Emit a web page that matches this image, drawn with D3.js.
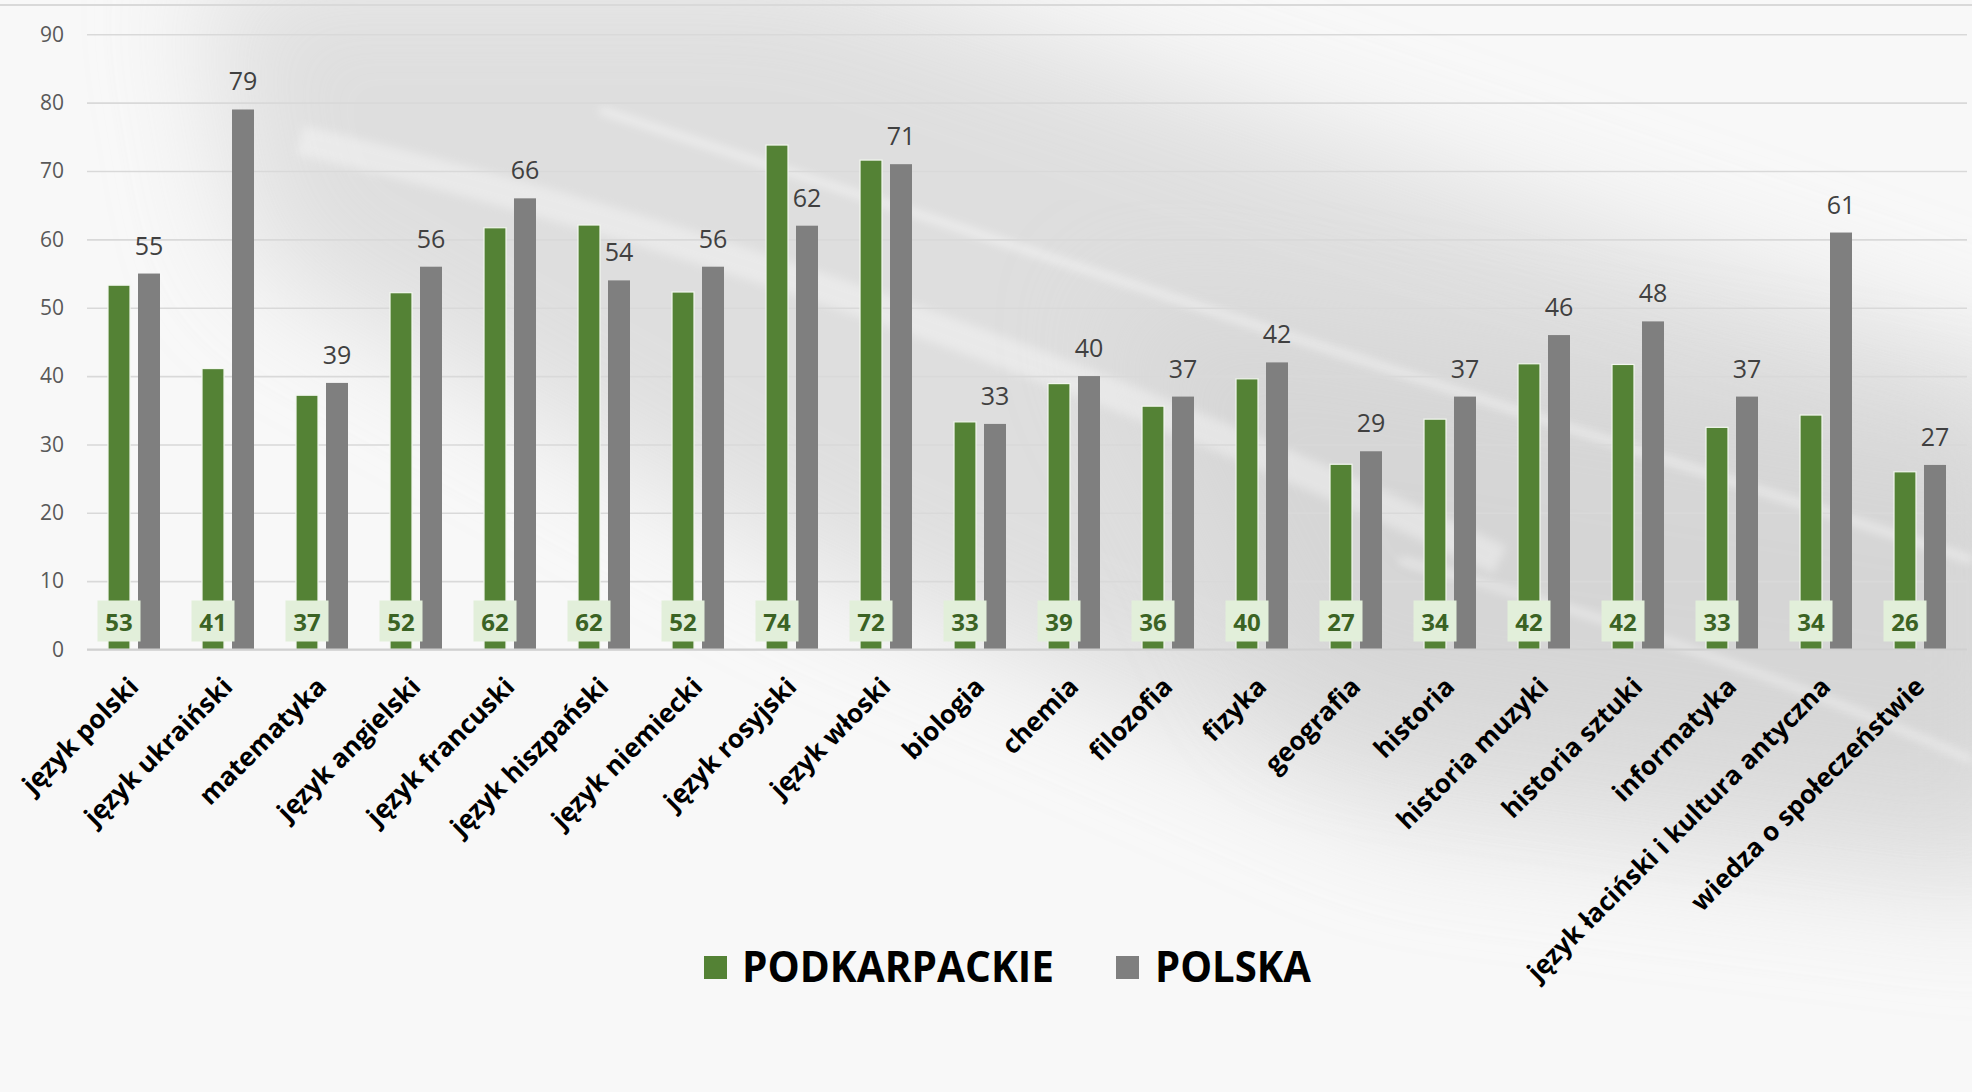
<!DOCTYPE html>
<html>
<head>
<meta charset="utf-8">
<script src="https://cdn.jsdelivr.net/npm/d3@7"></script>
<style>
  body { margin: 0; background: #f7f7f7; }
  svg { display: block; }
</style>
</head>
<body>
<div id="chart"></div>
<script>
// chart data
var categories = ["język polski", "język ukraiński", "matematyka", "język angielski",
  "język francuski", "język hiszpański", "język niemiecki", "język rosyjski",
  "język włoski", "biologia", "chemia", "filozofia", "fizyka", "geografia",
  "historia", "historia muzyki", "historia sztuki", "informatyka",
  "język łaciński i kultura antyczna", "wiedza o społeczeństwie"];
var podkarpackie = [53.3, 41.1, 37.2, 52.2, 61.7, 62.1, 52.3, 73.8, 71.6, 33.3,
  38.9, 35.6, 39.6, 27.1, 33.7, 41.8, 41.7, 32.5, 34.3, 26.0];
var polska = [55, 79, 39, 56, 66, 54, 56, 62, 71, 33, 40, 37, 42, 29, 37, 46, 48, 37, 61, 27];
var seriesNames = ["PODKARPACKIE", "POLSKA"];
var yTicks = [0, 10, 20, 30, 40, 50, 60, 70, 80, 90];

var svgWidth = 1972, svgHeight = 1092;
var plot = { left: 87, right: 1967, top: 34.3, bottom: 649.5 };

var svg = d3.select("#chart").append("svg")
  .attr("width", svgWidth)
  .attr("height", svgHeight);

// --- slide background (soft grey swoosh) ---
var defs = svg.append("defs");
defs.append("filter").attr("id", "blurBig")
  .attr("x", "-20%").attr("y", "-20%").attr("width", "140%").attr("height", "140%")
  .append("feGaussianBlur").attr("stdDeviation", 60);
defs.append("filter").attr("id", "blurSmall")
  .attr("x", "-10%").attr("y", "-50%").attr("width", "120%").attr("height", "200%")
  .append("feGaussianBlur").attr("stdDeviation", 5);

svg.append("rect").attr("width", svgWidth).attr("height", svgHeight).attr("fill", "#f8f8f8");
var bg = svg.append("g");
bg.append("path")
  .attr("d", "M200,-40 L800,-40 L2050,380 L2050,900 L1400,820 L800,560 L250,260 Z")
  .attr("fill", "#d6d6d6")
  .attr("opacity", 0.75)
  .attr("filter", "url(#blurBig)");
bg.append("path")
  .attr("d", "M1100,300 L2050,450 L2050,800 L1300,700 Z")
  .attr("fill", "#d0d0d0")
  .attr("opacity", 0.6)
  .attr("filter", "url(#blurBig)");
// white streaks
bg.append("path")
  .attr("d", "M600,110 Q1250,320 1972,560")
  .attr("fill", "none").attr("stroke", "#ffffff").attr("stroke-width", 6)
  .attr("opacity", 0.6).attr("filter", "url(#blurSmall)");
bg.append("path")
  .attr("d", "M300,140 Q900,280 1500,560")
  .attr("fill", "none").attr("stroke", "#ffffff").attr("stroke-width", 30)
  .attr("opacity", 0.35).attr("filter", "url(#blurSmall)");
bg.append("path")
  .attr("d", "M1400,560 Q1700,640 1972,760")
  .attr("fill", "none").attr("stroke", "#ffffff").attr("stroke-width", 5)
  .attr("opacity", 0.6).attr("filter", "url(#blurSmall)");

// top line of the slide
svg.append("line")
  .attr("x1", 0).attr("x2", svgWidth).attr("y1", 5).attr("y2", 5)
  .attr("stroke", "#d9d9d9").attr("stroke-width", 2);

// --- scales ---
var x0 = d3.scaleBand()
  .domain(categories)
  .range([plot.left, plot.right])
  .paddingInner(0.447)
  .paddingOuter(0.2235);

var x1 = d3.scaleBand()
  .domain(seriesNames)
  .range([0, x0.bandwidth()])
  .paddingInner(0.267);

var y = d3.scaleLinear()
  .domain([0, 90])
  .range([plot.bottom, plot.top]);

// --- y axis with gridlines ---
var yAxis = svg.append("g")
  .attr("transform", `translate(${plot.left},0)`)
  .call(d3.axisLeft(y).tickValues(yTicks).tickSize(-(plot.right - plot.left)).tickPadding(23));
yAxis.select(".domain").remove();
yAxis.selectAll(".tick line")
  .attr("stroke", "#d9d9d9")
  .attr("stroke-width", 1.6);
yAxis.selectAll(".tick text")
  .attr("fill", "#595959")
  .style("font-family", "'Open Sans', sans-serif")
  .style("font-size", "21px");

var table = categories.map(function(c, i) {
  return { cat: c, pk: podkarpackie[i], pl: polska[i] };
});

// --- bars ---
svg.append("g").selectAll("rect")
  .data(table)
  .enter().append("rect")
  .attr("x", d => x0(d.cat) + x1("PODKARPACKIE"))
  .attr("y", d => y(d.pk))
  .attr("width", x1.bandwidth())
  .attr("height", d => y(0) - y(d.pk))
  .attr("fill", "#548235")
  .attr("stroke", "#f2f7ee")
  .attr("stroke-width", 1.2);

svg.append("g").selectAll("rect")
  .data(table)
  .enter().append("rect")
  .attr("x", d => x0(d.cat) + x1("POLSKA"))
  .attr("y", d => y(d.pl))
  .attr("width", x1.bandwidth())
  .attr("height", d => y(0) - y(d.pl))
  .attr("fill", "#7f7f7f");

// baseline
svg.append("line")
  .attr("x1", plot.left).attr("x2", plot.right)
  .attr("y1", y(0)).attr("y2", y(0))
  .attr("stroke", "#d0d0d0").attr("stroke-width", 2);

// --- value labels ---
// green labels sit in a light box at the foot of each bar
var pkLabels = svg.append("g").selectAll("g")
  .data(table)
  .enter().append("g")
  .attr("transform", d => `translate(${x0(d.cat) + x1("PODKARPACKIE") + x1.bandwidth() / 2},${y(0)})`);
pkLabels.append("rect")
  .attr("x", -21.5).attr("y", -49)
  .attr("width", 43).attr("height", 41)
  .attr("fill", "#e2efda");
pkLabels.append("text")
  .attr("y", -19)
  .attr("text-anchor", "middle")
  .attr("fill", "#3b6324")
  .style("font-family", "'Open Sans', sans-serif")
  .style("font-weight", "bold")
  .style("font-size", "24px")
  .text(d => Math.round(d.pk));

svg.append("g").selectAll("text")
  .data(table)
  .enter().append("text")
  .attr("x", d => x0(d.cat) + x1("POLSKA") + x1.bandwidth() / 2)
  .attr("y", d => y(d.pl) - 19)
  .attr("text-anchor", "middle")
  .attr("fill", "#404040")
  .style("font-family", "'Open Sans', sans-serif")
  .style("font-size", "25px")
  .text(d => d.pl);

// --- category labels, rotated ---
svg.append("g").selectAll("text")
  .data(categories)
  .enter().append("text")
  .attr("transform", d => `translate(${x0(d) + x0.bandwidth() / 2 + 6},${y(0) + 39}) rotate(-45)`)
  .attr("text-anchor", "end")
  .attr("fill", "#000")
  .style("font-family", "'Open Sans', sans-serif")
  .style("font-weight", "bold")
  .style("font-size", "26px")
  .text(d => d);

// --- legend ---
var legendItems = [
  { name: seriesNames[0], color: "#548235", sx: 704, tx: 742, len: 312 },
  { name: seriesNames[1], color: "#7f7f7f", sx: 1116, tx: 1155, len: 156 }
];
var legend = svg.append("g").selectAll("g")
  .data(legendItems)
  .enter().append("g");
legend.append("rect")
  .attr("x", d => d.sx).attr("y", 956)
  .attr("width", 23).attr("height", 23)
  .attr("fill", d => d.color);
legend.append("text")
  .attr("x", d => d.tx).attr("y", 982)
  .attr("textLength", d => d.len)
  .attr("lengthAdjust", "spacingAndGlyphs")
  .attr("fill", "#000")
  .style("font-family", "'Open Sans', sans-serif")
  .style("font-weight", "bold")
  .style("font-size", "43px")
  .text(d => d.name);
</script>
</body>
</html>
